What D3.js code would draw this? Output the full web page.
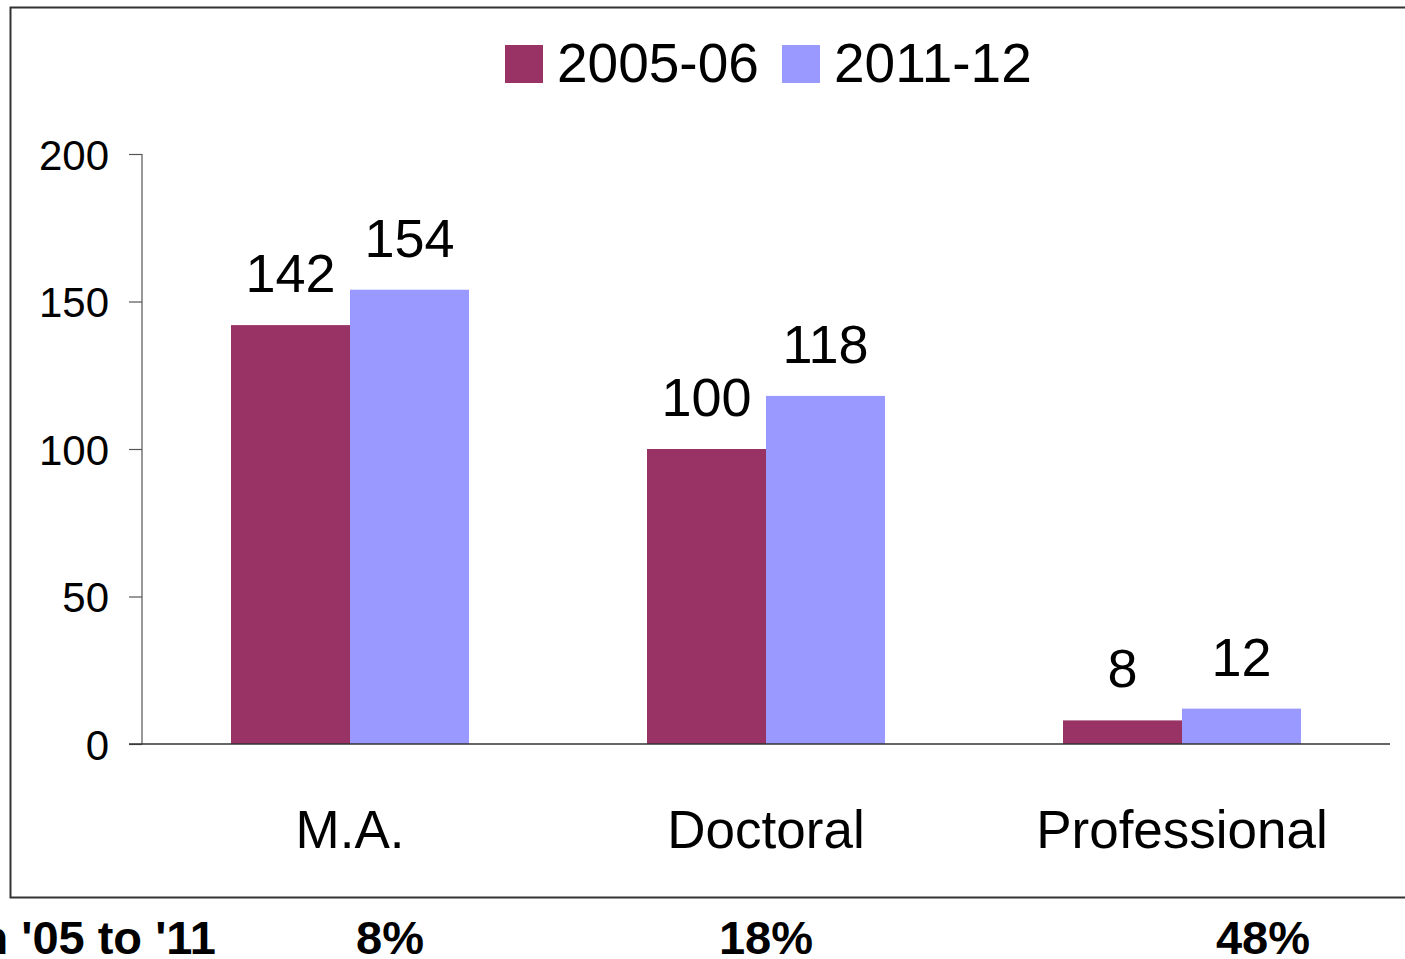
<!DOCTYPE html>
<html>
<head>
<meta charset="utf-8">
<script src="https://cdn.jsdelivr.net/npm/d3@7"></script>
<style>
  html, body { margin: 0; padding: 0; background: #fff; overflow: hidden; }
  svg { display: block; font-family: "Liberation Sans", Arial, sans-serif; }
</style>
</head>
<body>
<div id="chart"></div>
<script>
// dados do gráfico
const categories = ['M.A.', 'Doctoral', 'Professional'];
const seriesNames = ['2005-06', '2011-12'];
const values0506 = [142, 100, 8];
const values1112 = [154, 118, 12];
const yTicks = [0, 50, 100, 150, 200];
const changeLabel = "% Change in '05 to '11";
const changeValues = ['8%', '18%', '48%'];

const W = 1405, H = 959;
const colors = ['#993366', '#9999FF'];

const svg = d3.select('#chart').append('svg')
  .attr('width', W)
  .attr('height', H);

// moldura
svg.append('rect')
  .attr('x', 10.5).attr('y', 7.5)
  .attr('width', W + 20).attr('height', 890)
  .attr('fill', 'none')
  .attr('stroke', '#333')
  .attr('stroke-width', 2);

const margin = { left: 142, top: 154 };

const g = svg.append('g')
  .attr('transform', `translate(${margin.left},${margin.top})`);

// escalas
const x = d3.scaleBand().domain(categories).range([0, 1248]);
const x1 = d3.scaleBand().domain(seriesNames).range([89, x.bandwidth() - 89]);
const y = d3.scaleLinear().domain([0, 200]).range([590, 0]);

const data = categories.map((c, i) => ({ cat: c, vals: [values0506[i], values1112[i]] }));

// eixo Y
const yAxisG = g.append('g')
  .call(d3.axisLeft(y).tickValues(yTicks).tickSize(13).tickPadding(20));
yAxisG.select('.domain').attr('stroke', '#555').attr('stroke-width', 1.2).attr('d', 'M0,0V590');
yAxisG.selectAll('.tick line').attr('stroke', '#555').attr('stroke-width', 1.2);
yAxisG.selectAll('text')
  .style('font-size', '42px')
  .style('fill', '#000')
  .attr('dy', '0.36em');

// barras
const groups = g.selectAll('g.cat')
  .data(data)
  .enter().append('g')
  .attr('class', 'cat')
  .attr('transform', d => `translate(${x(d.cat)},0)`);

groups.selectAll('rect')
  .data(d => d.vals.map((v, i) => ({ s: seriesNames[i], v, i })))
  .enter().append('rect')
  .attr('x', d => x1(d.s))
  .attr('width', x1.bandwidth())
  .attr('y', d => y(d.v))
  .attr('height', d => y(0) - y(d.v))
  .attr('fill', d => colors[d.i]);

groups.selectAll('text.value')
  .data(d => d.vals.map((v, i) => ({ s: seriesNames[i], v, i })))
  .enter().append('text')
  .attr('class', 'value')
  .attr('x', d => x1(d.s) + x1.bandwidth() / 2)
  .attr('y', d => y(d.v) - 33)
  .attr('text-anchor', 'middle')
  .style('font-size', '54px')
  .text(d => d.v);

// eixo X
g.append('line')
  .attr('x1', -13).attr('x2', 1248)
  .attr('y1', y(0)).attr('y2', y(0))
  .attr('stroke', '#333').attr('stroke-width', 1.5);

g.selectAll('text.cat-label')
  .data(categories)
  .enter().append('text')
  .attr('class', 'cat-label')
  .attr('x', d => x(d) + x.bandwidth() / 2)
  .attr('y', 694)
  .attr('text-anchor', 'middle')
  .style('font-size', '53px')
  .text(d => d);

// legenda
const legend = svg.append('g').attr('transform', 'translate(505,45)');
const legendX = [0, 277];
seriesNames.forEach((s, i) => {
  legend.append('rect')
    .attr('x', legendX[i]).attr('y', 0)
    .attr('width', 38).attr('height', 38)
    .attr('fill', colors[i]);
  legend.append('text')
    .attr('x', legendX[i] + 52).attr('y', 37)
    .style('font-size', '55px')
    .text(s);
});

// linha de variação
svg.append('text')
  .attr('x', 216).attr('y', 954)
  .attr('text-anchor', 'end')
  .style('font-size', '47px')
  .style('font-weight', 'bold')
  .text(changeLabel);

const changeX = [390, 766, 1263];
svg.selectAll('text.change')
  .data(changeValues)
  .enter().append('text')
  .attr('class', 'change')
  .attr('x', (d, i) => changeX[i])
  .attr('y', 954)
  .attr('text-anchor', 'middle')
  .style('font-size', '47px')
  .style('font-weight', 'bold')
  .text(d => d);
</script>
</body>
</html>
